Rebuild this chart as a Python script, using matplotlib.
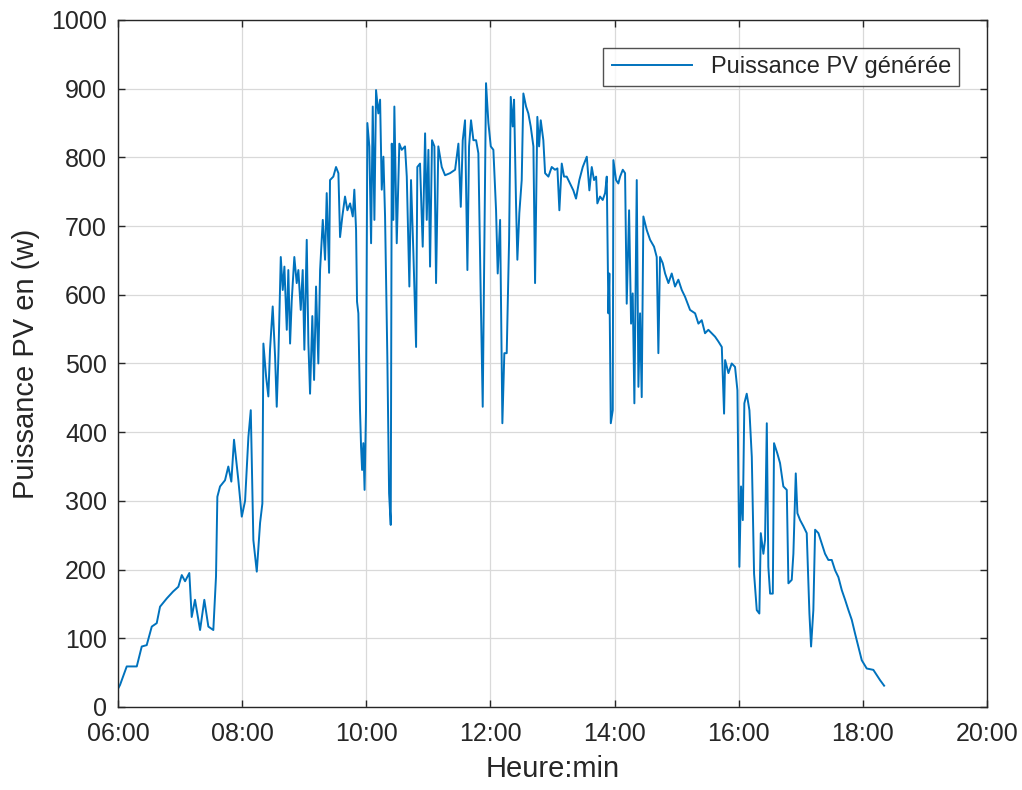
import matplotlib.pyplot as plt

plt.rcParams['font.family'] = ['Liberation Sans', 'DejaVu Sans']

# temps en minutes depuis minuit
minutes = [
    360.5, 361.9, 368.4, 378.1, 382.9, 387.7, 392.6, 397.4, 400.6, 407.1,
    413.2, 418.3, 421.6, 424.8, 428.9, 431.2, 434.4, 439.3, 443.4, 447.3,
    452.1, 454.7, 456.0, 458.6, 463.4, 466.6, 469.5, 472.1, 476.3, 479.6,
    482.8, 486.0, 488.3, 490.8, 494.1, 497.3, 499.5, 500.5, 503.1, 505.3,
    506.9, 509.5, 511.8, 513.4, 515.0, 517.3, 519.2, 520.8, 523.1, 524.6,
    526.3, 527.9, 530.4, 532.7, 534.3, 536.6, 538.5, 540.1, 542.4, 544.0,
    545.6, 547.8, 549.5, 551.4, 553.6, 555.3, 557.9, 560.1, 561.7, 564.0,
    564.9, 568.1, 570.7, 573.0, 574.6, 576.8, 579.4, 581.7, 584.3, 586.9,
    588.4, 590.1, 591.0, 592.3, 593.9, 594.9, 595.9, 597.1, 598.3, 599.7,
    601.0, 602.9, 604.6, 606.2, 607.8, 609.4, 611.6, 613.3, 614.9, 616.5,
    618.1, 620.3, 622.0, 623.6, 624.6, 626.1, 627.1, 629.4, 631.9, 634.2,
    637.4, 639.1, 641.6, 643.2, 645.5, 648.1, 649.3, 651.9, 654.5, 656.8,
    658.4, 660.0, 661.6, 663.5, 665.8, 667.4, 669.6, 672.9, 676.1, 680.9,
    685.8, 689.0, 691.3, 693.2, 695.4, 697.7, 699.3, 701.2, 703.5, 706.1,
    708.3, 710.6, 712.5, 714.1, 715.7, 718.0, 720.3, 722.8, 725.4, 727.0,
    729.3, 731.5, 733.4, 735.7, 738.0, 739.6, 741.5, 742.8, 744.7, 746.0,
    747.9, 750.2, 751.8, 754.4, 756.6, 758.9, 761.5, 763.1, 765.3, 767.0,
    768.6, 771.1, 772.8, 776.0, 779.2, 782.4, 784.7, 786.6, 788.9, 791.1,
    793.7, 796.9, 800.1, 802.7, 805.9, 809.2, 813.1, 815.6, 817.9, 820.1,
    822.1, 823.3, 825.9, 828.5, 830.8, 832.4, 834.0, 834.9, 836.3, 838.2,
    838.8, 841.4, 843.6, 845.3, 847.9, 850.1, 851.7, 854.0, 855.9, 857.5,
    859.1, 861.4, 863.0, 864.6, 866.2, 867.8, 871.1, 874.3, 878.1, 880.7,
    882.3, 883.9, 886.5, 888.8, 892.0, 895.2, 898.4, 901.6, 904.9, 908.1,
    912.9, 917.8, 921.0, 924.2, 927.4, 930.6, 933.9, 937.1, 940.3, 943.6,
    945.8, 946.8, 950.0, 953.2, 956.4, 958.7, 960.6, 962.2, 963.9, 965.4,
    967.7, 970.3, 972.6, 974.8, 977.4, 979.9, 981.3, 983.8, 985.4, 987.1,
    988.6, 990.3, 992.9, 994.1, 997.3, 999.9, 1003.1, 1006.4, 1008.0, 1011.2,
    1012.8, 1015.1, 1016.7, 1019.3, 1022.5, 1025.7, 1028.3, 1029.9, 1032.1, 1033.8,
    1037.0, 1040.2, 1043.4, 1046.6, 1049.9, 1053.1, 1056.3, 1059.6, 1062.8, 1066.0,
    1069.2, 1072.4, 1075.6, 1078.9, 1083.7, 1090.1, 1096.6, 1100.5,
]

# puissance PV en W
puissance = [
    28, 32, 59, 59, 88, 90, 117, 122, 146, 158,
    168, 175, 192, 183, 195, 131, 156, 112, 156, 117,
    112, 190, 306, 321, 330, 350, 328, 389, 330, 277,
    300, 393, 432, 243, 197, 268, 296, 529, 481, 452,
    520, 583, 510, 437, 510, 655, 607, 641, 549, 636,
    529, 592, 655, 617, 636, 578, 636, 520, 680, 529,
    456, 569, 476, 612, 500, 636, 709, 651, 748, 632,
    767, 772, 786, 777, 684, 714, 743, 723, 733, 714,
    753, 694, 590, 573, 432, 379, 345, 384, 316, 432,
    850, 816, 675, 874, 709, 898, 864, 884, 753, 801,
    714, 510, 311, 265, 820, 709, 874, 675, 820, 811,
    816, 772, 612, 767, 660, 524, 786, 791, 670, 835,
    709, 811, 641, 825, 816, 617, 816, 786, 774, 777,
    782, 820, 728, 825, 854, 636, 816, 854, 825, 825,
    806, 597, 437, 670, 908, 850, 816, 811, 723, 631,
    709, 413, 515, 515, 680, 888, 845, 884, 733, 651,
    719, 767, 893, 874, 864, 845, 816, 617, 859, 816,
    854, 825, 777, 772, 786, 782, 784, 723, 791, 772,
    772, 762, 752, 740, 767, 786, 801, 752, 786, 767,
    772, 733, 743, 738, 748, 772, 573, 631, 413, 432,
    796, 767, 762, 772, 782, 777, 587, 723, 558, 602,
    442, 767, 466, 573, 451, 714, 694, 680, 670, 655,
    515, 655, 646, 631, 617, 631, 612, 622, 607, 597,
    578, 573, 558, 563, 544, 549, 544, 539, 532, 524,
    427, 505, 486, 500, 495, 461, 204, 321, 272, 442,
    456, 432, 364, 194, 141, 136, 253, 223, 243, 413,
    204, 165, 165, 384, 369, 355, 321, 316, 180, 185,
    223, 340, 282, 272, 263, 253, 136, 88, 141, 258,
    253, 238, 223, 214, 214, 199, 189, 170, 156, 141,
    127, 107, 88, 68, 56, 54, 39, 31,
]

heures = [m / 60 for m in minutes]
xticks = [6, 8, 10, 12, 14, 16, 18, 20]
xlabels = ['06:00', '08:00', '10:00', '12:00', '14:00', '16:00', '18:00', '20:00']
yticks = list(range(0, 1001, 100))

gris = '#262626'

fig = plt.figure(figsize=(10.22, 7.9), dpi=100)
ax = fig.add_axes([0.1155, 0.1051, 0.8503, 0.8696])

ax.plot(heures, puissance, color='#0072BD', lw=1.4, label='Puissance PV générée')

ax.set_xlim(6, 20)
ax.set_ylim(0, 1000)
ax.set_xticks(xticks)
ax.set_xticklabels(xlabels)
ax.set_yticks(yticks)

ax.grid(True, color='#d9d9d9', lw=0.9)
ax.set_axisbelow(True)
for s in ax.spines.values():
    s.set_color(gris)
    s.set_linewidth(1.0)
ax.tick_params(axis='both', direction='in', length=5, width=1.0, colors=gris,
               labelsize=18, top=True, right=True)
ax.tick_params(axis='x', pad=11)
ax.tick_params(axis='y', pad=8)

ax.set_xlabel('Heure:min', fontsize=21, color=gris, labelpad=6)
ax.set_ylabel('Puissance PV en (w)', fontsize=21, color=gris, labelpad=8)

leg = ax.legend(loc='upper right', fontsize=17, frameon=True, fancybox=False,
                handlelength=3.4, borderaxespad=1.17, borderpad=0.35)
leg.get_frame().set_edgecolor(gris)
leg.get_frame().set_linewidth(1.0)
for t in leg.get_texts():
    t.set_color(gris)

fig.savefig('out.png', dpi=100)
